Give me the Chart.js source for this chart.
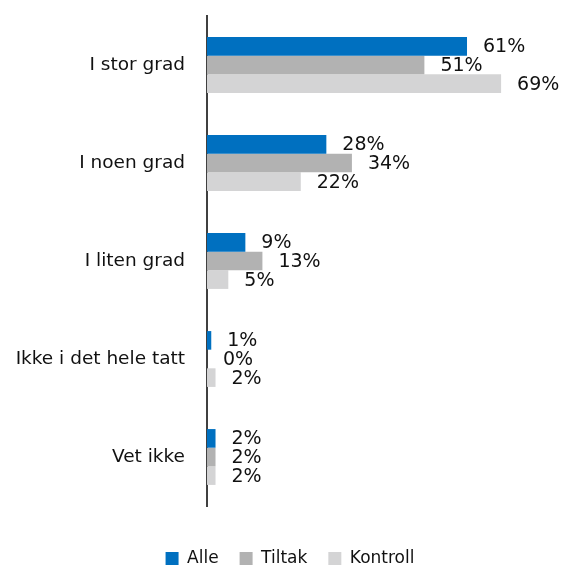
<!DOCTYPE html>
<html>
<head>
<meta charset="utf-8">
<script src="https://cdn.jsdelivr.net/npm/chart.js@4"></script>
<style>
  html, body { margin: 0; padding: 0; background: #fff; }
  #wrap { width: 563px; height: 565px; position: relative; }
</style>
</head>
<body>
<div id="wrap"><canvas id="chart"></canvas></div>
<script>
const categories = ['I stor grad', 'I noen grad', 'I liten grad', 'Ikke i det hele tatt', 'Vet ikke'];
const seriesNames = ['Alle', 'Tiltak', 'Kontroll'];
const alle = [61, 28, 9, 1, 2];
const tiltak = [51, 34, 13, 0, 2];
const kontroll = [69, 22, 5, 2, 2];
const colors = ['#0070C0', '#B2B2B2', '#D4D4D5'];

const FONT = 'DejaVu Sans';

// draws "NN%" to the right of each bar
const valueLabels = {
    id: 'valueLabels',
    afterDatasetsDraw(chart) {
        const ctx = chart.ctx;
        ctx.save();
        ctx.font = '19px ' + FONT;
        ctx.fillStyle = '#111';
        ctx.textAlign = 'left';
        ctx.textBaseline = 'middle';
        chart.data.datasets.forEach((ds, i) => {
            const meta = chart.getDatasetMeta(i);
            meta.data.forEach((bar, j) => {
                ctx.fillText(ds.data[j] + '%', bar.x + 16, bar.y + 1);
            });
        });
        ctx.restore();
    }
};

// nudge the legend a bit right so it sits under the plot like the original
const legendShift = {
    id: 'legendShift',
    afterLayout(chart) {
        if (chart.legend) chart.legend.left += 32;
    }
};

const seriesData = [alle, tiltak, kontroll];

new Chart(document.getElementById('chart'), {
    type: 'bar',
    data: {
        labels: categories,
        datasets: seriesNames.map((name, i) => ({
            label: name,
            data: seriesData[i],
            backgroundColor: colors[i],
            borderWidth: 0,
            barPercentage: 1,
            categoryPercentage: 0.57
        }))
    },
    options: {
        indexAxis: 'y',
        responsive: true,
        maintainAspectRatio: false,
        animation: false,
        layout: { padding: { top: 16, right: 15, left: 0, bottom: -12 } },
        scales: {
            x: {
                display: true,
                min: 0,
                max: 80,
                grid: { display: false, drawTicks: false },
                border: { display: false },
                ticks: { display: false },
                afterFit(scale) { scale.height = 23; }
            },
            y: {
                grid: { display: false, drawTicks: true, tickLength: 22 },
                border: { display: true, color: '#404040', width: 2 },
                ticks: {
                    color: '#111',
                    padding: 0,
                    font: { family: FONT, size: 18.5 }
                },
                afterFit(scale) { scale.width = 207; }
            }
        },
        plugins: {
            legend: {
                position: 'bottom',
                labels: {
                    color: '#111',
                    boxWidth: 13,
                    boxHeight: 13,
                    padding: 21,
                    font: { family: FONT, size: 17 }
                }
            },
            tooltip: { enabled: false }
        }
    },
    plugins: [valueLabels, legendShift]
});
</script>
</body>
</html>
